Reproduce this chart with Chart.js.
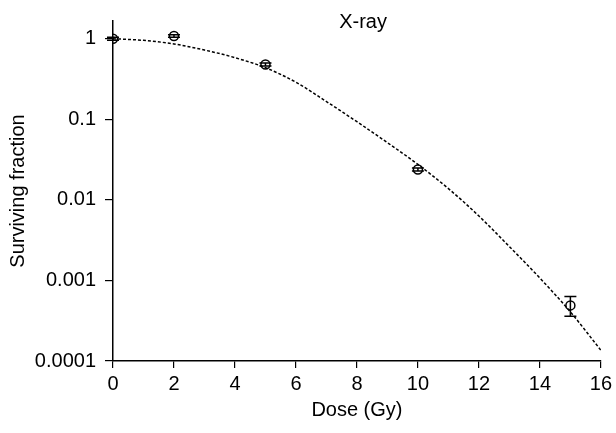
<!DOCTYPE html>
<html>
<head>
<meta charset="utf-8">
<script src="https://cdn.jsdelivr.net/npm/chart.js@4/dist/chart.umd.min.js"></script>
<style>
  html, body { margin: 0; padding: 0; background: #fff; }
  #wrap { width: 616px; height: 433px; }
</style>
</head>
<body>
<div id="wrap"><canvas id="chart" width="616" height="433"></canvas></div>
<script>
'use strict';

// measured points (dose in Gy, surviving fraction)
const doses = [0, 2, 5, 10, 15];
const survival = [1.0, 1.08, 0.48, 0.0238, 0.00049];
const errLow = [0.96, 1.04, 0.46, 0.0228, 0.00036];
const errHigh = [1.04, 1.12, 0.50, 0.0248, 0.00063];

// fitted curve
const fitDoses = [0, 1, 2, 3, 4, 5, 6, 7, 8, 9, 10, 11, 12, 13, 14, 15, 16];
const fitSurvival = [1.0, 0.955, 0.861, 0.724, 0.582, 0.437, 0.288, 0.166, 0.0933,
  0.0513, 0.0275, 0.0138, 0.0063, 0.00263, 0.00107, 0.000407, 0.000136];

const yTicks = [0.0001, 0.001, 0.01, 0.1, 1];
const yTickLabels = ['0.0001', '0.001', '0.01', '0.1', '1'];
const xTicks = [0, 2, 4, 6, 8, 10, 12, 14, 16];

const FONT = "'Liberation Sans', Arial, sans-serif";

const errorBars = {
  id: 'errorBars',
  afterDatasetsDraw(chart) {
    const { ctx, scales: { x, y } } = chart;
    ctx.save();
    ctx.strokeStyle = '#000';
    ctx.lineWidth = 1.5;
    doses.forEach((d, i) => {
      const px = x.getPixelForValue(d);
      const top = y.getPixelForValue(errHigh[i]);
      const bot = y.getPixelForValue(errLow[i]);
      ctx.beginPath();
      ctx.moveTo(px, top);
      ctx.lineTo(px, bot);
      ctx.moveTo(px - 6, top);
      ctx.lineTo(px + 6, top);
      ctx.moveTo(px - 6, bot);
      ctx.lineTo(px + 6, bot);
      ctx.stroke();
    });
    ctx.restore();
  }
};

const panelLabel = {
  id: 'panelLabel',
  afterDraw(chart) {
    const { ctx, chartArea } = chart;
    ctx.save();
    ctx.fillStyle = '#000';
    ctx.font = '20px ' + FONT;
    ctx.textAlign = 'center';
    ctx.textBaseline = 'alphabetic';
    ctx.fillText('X-ray', chart.scales.x.getPixelForValue(8.2), chartArea.top + 7);
    ctx.restore();
  }
};

new Chart(document.getElementById('chart').getContext('2d'), {
  type: 'scatter',
  data: {
    datasets: [
      {
        type: 'line',
        label: 'fit',
        data: fitDoses.map((d, i) => ({ x: d, y: fitSurvival[i] })),
        borderColor: '#000',
        borderWidth: 1.5,
        borderDash: [3, 2],
        pointRadius: 0,
        cubicInterpolationMode: 'monotone',
        fill: false
      },
      {
        label: 'X-ray',
        data: doses.map((d, i) => ({ x: d, y: survival[i] })),
        pointStyle: 'circle',
        pointRadius: 4.5,
        pointBorderWidth: 1.5,
        borderColor: '#000',
        backgroundColor: 'rgba(255,255,255,0)'
      }
    ]
  },
  options: {
    responsive: false,
    animation: false,
    layout: { padding: { left: 0, right: 13, top: 17, bottom: 0 } },
    plugins: {
      legend: { display: false },
      tooltip: { enabled: false }
    },
    scales: {
      x: {
        type: 'linear',
        min: 0,
        max: 16,
        afterBuildTicks: scale => { scale.ticks = xTicks.map(v => ({ value: v })); },
        afterFit: scale => { scale.height = 72; },
        grid: { drawOnChartArea: false, drawTicks: true, tickLength: 7, color: '#000', lineWidth: 1.2 },
        border: { display: true, color: '#000', width: 1.5 },
        ticks: { color: '#000', padding: 4, maxRotation: 0, font: { family: FONT, size: 20 } },
        title: {
          display: true,
          text: 'Dose (Gy)',
          color: '#000',
          font: { family: FONT, size: 20 },
          padding: { top: 0, bottom: 11 }
        }
      },
      y: {
        type: 'logarithmic',
        min: 0.0001,
        max: 1.66,
        afterBuildTicks: scale => { scale.ticks = yTicks.map(v => ({ value: v })); },
        afterFit: scale => { scale.width = 113; },
        grid: { drawOnChartArea: false, drawTicks: true, tickLength: 8, color: '#000', lineWidth: 1.2 },
        border: { display: true, color: '#000', width: 1.5 },
        ticks: {
          color: '#000',
          padding: 9,
          font: { family: FONT, size: 20 },
          callback: value => {
            const i = yTicks.findIndex(t => Math.abs(t - value) / t < 1e-6);
            return i >= 0 ? yTickLabels[i] : '';
          }
        },
        title: {
          display: true,
          text: 'Surviving fraction',
          color: '#000',
          font: { family: FONT, size: 20 },
          padding: { top: 6, bottom: 0 }
        }
      }
    }
  },
  plugins: [errorBars, panelLabel]
});
</script>
</body>
</html>
